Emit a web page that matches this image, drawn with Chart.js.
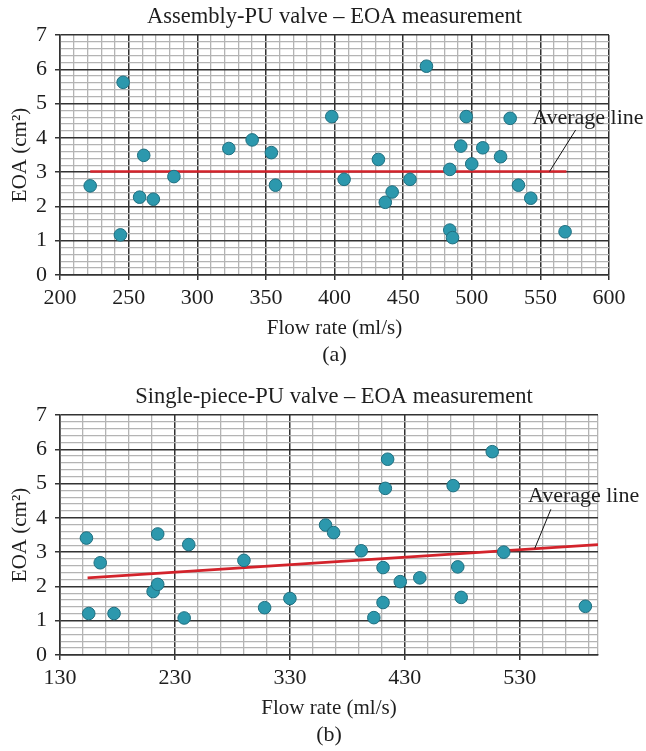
<!DOCTYPE html>
<html>
<head>
<meta charset="utf-8">
<script src="https://cdn.jsdelivr.net/npm/chart.js@4"></script>
<style>
  html, body { margin: 0; padding: 0; background: #fff; }
  body { width: 646px; height: 751px; position: relative; overflow: hidden; }
  canvas { position: absolute; left: 0; }
  #chartA { top: 0; }
  #chartB { top: 380px; }
</style>
</head>
<body>
<canvas id="chartA" width="646" height="375"></canvas>
<canvas id="chartB" width="646" height="371"></canvas>
<script>
// (a) Assembly-PU valve
const flowA = [222, 246, 244, 261, 258, 268, 283, 323, 340, 354, 357, 398, 407, 432, 437, 442, 455, 467, 484, 484, 486, 492, 496, 500, 508, 521, 528, 534, 543, 568];
const eoaA = [2.60, 5.62, 1.17, 3.49, 2.27, 2.21, 2.87, 3.69, 3.94, 3.57, 2.62, 4.62, 2.79, 3.37, 2.12, 2.42, 2.79, 6.09, 3.08, 1.31, 1.09, 3.76, 4.62, 3.24, 3.71, 3.45, 4.57, 2.62, 2.24, 1.26];
const avgFlowA = [222, 569];
const avgEoaA = [3.02, 3.02];
const xTicksA = [200, 250, 300, 350, 400, 450, 500, 550, 600];

// (b) Single-piece-PU valve
const flowB = [153, 155, 165, 177, 211, 215, 215, 238, 242, 290, 308, 330, 361, 368, 392, 411, 415, 413, 411, 403, 426, 443, 472, 476, 479, 506, 516, 587];
const eoaB = [3.41, 1.21, 2.69, 1.21, 1.85, 2.06, 3.53, 1.08, 3.22, 2.76, 1.38, 1.65, 3.79, 3.57, 3.04, 2.55, 5.71, 4.86, 1.53, 1.09, 2.14, 2.25, 4.94, 2.57, 1.68, 5.93, 3.00, 1.42];
const avgFlowB = [154, 598];
const avgEoaB = [2.25, 3.22];
const xTicksB = [130, 230, 330, 430, 530];

const yTicks = [0, 1, 2, 3, 4, 5, 6, 7];

const FONT = "'Liberation Serif', 'Times New Roman', serif";
const TXT = '#1e1e1e';
const MAJOR = '#333333';
const MINOR = '#b4b4b4';

function steps(min, max, step) {
    let out = [];
    for (let i = 0; ; i++) {
        let v = Math.round((min + i * step) * 1000) / 1000;
        if (v > max + 1e-9) break;
        out.push(v);
    }
    if (out[out.length - 1] < max) out.push(max);
    return out;
}

// leader line + "Average line" text, placed in data units
const averageNote = {
    id: 'averageNote',
    afterDatasetsDraw(chart, args, opts) {
        const c = chart.ctx, xs = chart.scales.x, ys = chart.scales.y;
        c.save();
        c.strokeStyle = '#111';
        c.lineWidth = 1;
        c.beginPath();
        c.moveTo(xs.getPixelForValue(opts.from[0]), ys.getPixelForValue(opts.from[1]));
        c.lineTo(xs.getPixelForValue(opts.to[0]), ys.getPixelForValue(opts.to[1]));
        c.stroke();
        c.font = '22px ' + FONT;
        c.fillStyle = TXT;
        c.textAlign = 'left';
        c.textBaseline = 'middle';
        c.fillText(opts.text, xs.getPixelForValue(opts.at[0]), ys.getPixelForValue(opts.at[1]));
        c.restore();
    }
};

// chart title and "(a)"/"(b)" caption, centred over the plot area
const frameText = {
    id: 'frameText',
    afterDraw(chart, args, opts) {
        const c = chart.ctx, a = chart.chartArea;
        const cx = (a.left + a.right) / 2;
        c.save();
        c.fillStyle = TXT;
        c.textAlign = 'center';
        c.textBaseline = 'middle';
        c.font = '22.5px ' + FONT;
        c.fillText(opts.title, cx + opts.shift, a.top - 18);
        c.font = '22px ' + FONT;
        c.fillText(opts.caption, cx, a.bottom + 80);
        c.restore();
    }
};

function makeChart(id, o) {
    const xMajor = v => o.xTicks.includes(v);
    const yMajor = v => yTicks.includes(v);
    return new Chart(document.getElementById(id), {
        type: 'scatter',
        data: {
            datasets: [{
                data: o.flow.map((f, i) => ({ x: f, y: o.eoa[i] })),
                pointRadius: 6.3,
                backgroundColor: '#2c98ad',
                borderColor: '#1f6f80',
                borderWidth: 1,
                order: 1
            }, {
                type: 'line',
                data: o.avgFlow.map((f, i) => ({ x: f, y: o.avgEoa[i] })),
                borderColor: '#d3232b',
                borderWidth: 2.6,
                pointRadius: 0,
                fill: false,
                order: 2
            }]
        },
        options: {
            responsive: false,
            animation: false,
            layout: { padding: { left: 0, right: o.padRight, top: 35, bottom: o.padBottom } },
            plugins: {
                legend: { display: false },
                tooltip: { enabled: false },
                title: { display: false },
                averageNote: o.note,
                frameText: { title: o.title, caption: o.caption, shift: o.titleShift }
            },
            scales: {
                x: {
                    type: 'linear', min: o.xMin, max: o.xMax,
                    afterBuildTicks: s => { s.ticks = steps(o.xMin, o.xMax, o.xStep).map(v => ({ value: v })); },
                    afterFit: s => { s.height = 66.6; },
                    ticks: {
                        autoSkip: false, maxRotation: 0, padding: 5, color: TXT,
                        font: { family: FONT, size: 22 },
                        callback: v => xMajor(v) ? String(v) : ''
                    },
                    grid: {
                        color: ctx => xMajor(ctx.tick.value) ? MAJOR : MINOR,
                        lineWidth: ctx => xMajor(ctx.tick.value) ? 1.5 : 1.3,
                        tickLength: 5,
                        tickColor: ctx => xMajor(ctx.tick.value) ? MAJOR : 'rgba(0,0,0,0)'
                    },
                    border: { display: true, color: MAJOR, width: 1.5 },
                    title: {
                        display: true, text: 'Flow rate (ml/s)', color: TXT,
                        font: { family: FONT, size: 21 },
                        padding: { top: 2, bottom: 1 }
                    }
                },
                y: {
                    type: 'linear', min: 0, max: 7,
                    afterBuildTicks: s => { s.ticks = steps(0, 7, 0.2).map(v => ({ value: v })); },
                    afterFit: s => { s.width = 60; },
                    ticks: {
                        autoSkip: false, padding: 8, color: TXT,
                        font: { family: FONT, size: 22 },
                        callback: v => yMajor(v) ? String(v) : ''
                    },
                    grid: {
                        color: ctx => yMajor(ctx.tick.value) ? MAJOR : MINOR,
                        lineWidth: ctx => yMajor(ctx.tick.value) ? 1.5 : 1.3,
                        tickLength: 5,
                        tickColor: ctx => yMajor(ctx.tick.value) ? MAJOR : 'rgba(0,0,0,0)'
                    },
                    border: { display: true, color: MAJOR, width: 1.5 },
                    title: {
                        display: true, text: 'EOA (cm²)', color: TXT,
                        font: { family: FONT, size: 21 },
                        padding: { top: 8, bottom: 0 }
                    }
                }
            }
        },
        plugins: [averageNote, frameText]
    });
}

makeChart('chartA', {
    title: 'Assembly-PU valve – EOA measurement', caption: '(a)', titleShift: 0,
    flow: flowA, eoa: eoaA, avgFlow: avgFlowA, avgEoa: avgEoaA,
    xTicks: xTicksA, xMin: 200, xMax: 600, xStep: 10, padRight: 37, padBottom: 33.4,
    note: { text: 'Average line', at: [544, 4.58], from: [556.7, 3.02], to: [575.7, 4.23] }
});

makeChart('chartB', {
    title: 'Single-piece-PU valve – EOA measurement', caption: '(b)', titleShift: 5,
    flow: flowB, eoa: eoaB, avgFlow: avgFlowB, avgEoa: avgEoaB,
    xTicks: xTicksB, xMin: 130, xMax: 598, xStep: 20, padRight: 48, padBottom: 29.4,
    note: { text: 'Average line', at: [537, 4.62], from: [543, 3.11], to: [557, 4.25] }
});
</script>
</body>
</html>
